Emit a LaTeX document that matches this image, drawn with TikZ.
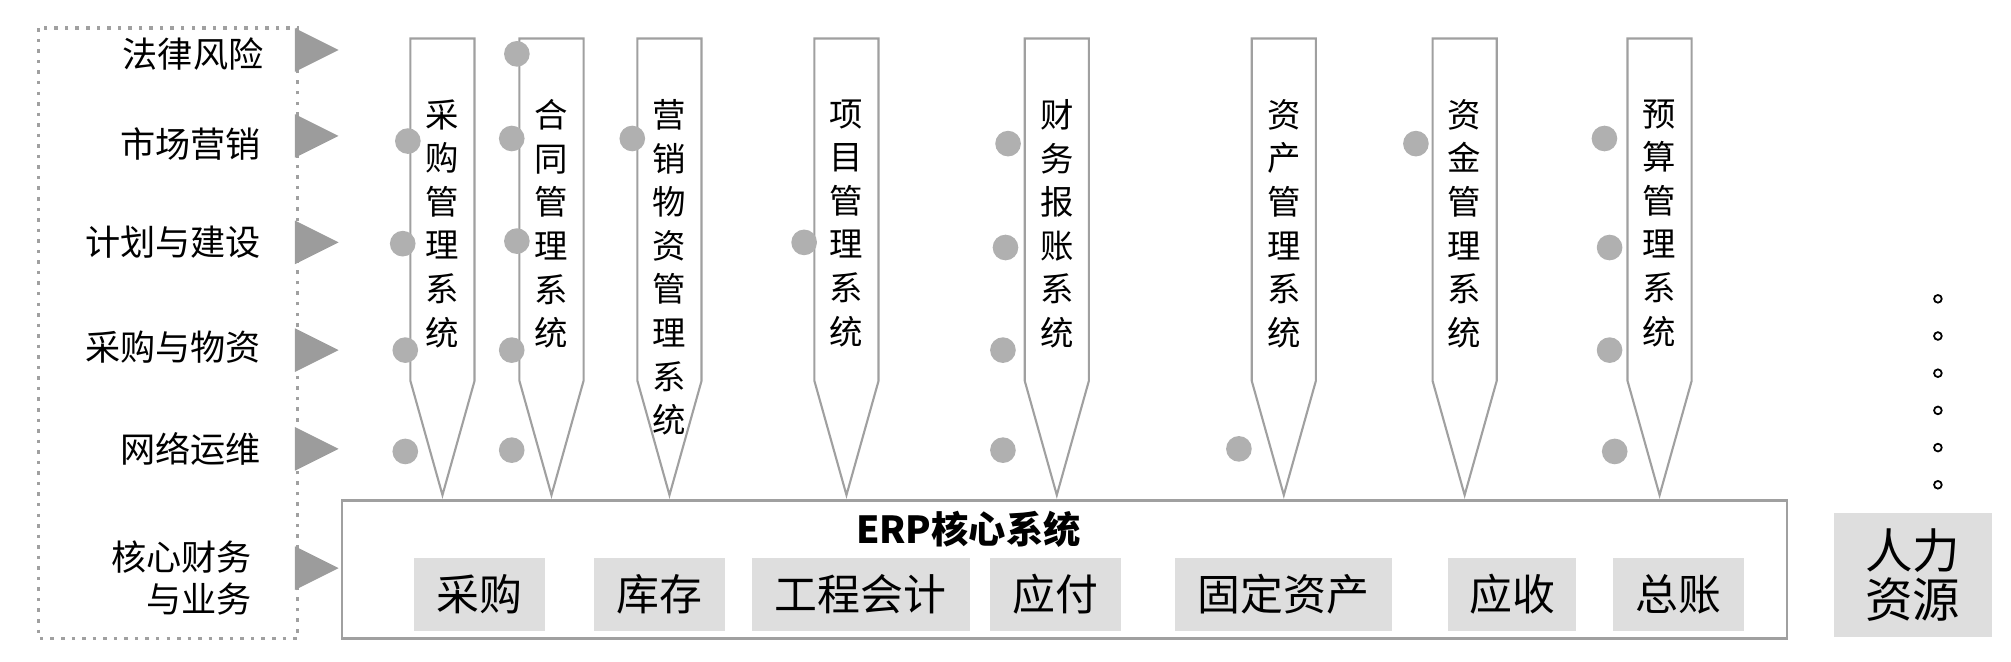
\documentclass[tikz,border=0pt]{standalone}
\usepackage{fontspec}
\setmainfont{Noto Sans CJK SC}
\usetikzlibrary{positioning}

\definecolor{linegray}{HTML}{A0A0A0}
\definecolor{trigray}{HTML}{9C9C9C}
\definecolor{dotgray}{HTML}{B0B0B0}
\definecolor{boxgray}{HTML}{DEDEDE}
\def\px{0.3649pt}

\begin{document}
\begin{tikzpicture}[x=0.012825cm,y=-0.012825cm,
	pencil/.style={draw=linegray,line width=0.6pt,fill=white},
	vtext/.style={align=center,inner sep=0pt,anchor=north,font=\fontsize{9.5}{12.4}\selectfont},
	lab/.style={align=right,inner sep=0pt,anchor=east,font=\fontsize{10}{12}\selectfont},
	module/.style={fill=boxgray,minimum height=57*\px,inner sep=0pt,font=\fontsize{12.2}{13}\selectfont},
	tri/.style={fill=trigray},
	blob/.style={circle,fill=dotgray,minimum size=20*\px,inner sep=0pt},
	etc/.style={circle,draw=black,line width=0.5pt,minimum size=6*\px,inner sep=0pt}]
	\useasboundingbox (0,0) rectangle (1568,516);
	% left frame with the business areas
	\draw[linegray,dotted,line width=1pt] (30,22) rectangle (232,498);
	\node[lab] (l1) at (206,42) {法律风险};
	\node[lab] (l2) at (204,112) {市场营销};
	\node[lab] (l3) at (204,189) {计划与建设};
	\node[lab] (l4) at (204,271) {采购与物资};
	\node[lab] (l5) at (204,350) {网络运维};
	\node[lab] (l6) at (197,451) {核心财务\\与业务};
	\foreach \y in {39,106,189,273,350,443}
		\fill[tri] (230,\y-17) -- (264,\y) -- (230,\y+17) -- cycle;
	% ERP core
	\node[draw=linegray,line width=0.8pt,minimum width=1126*\px,minimum height=108*\px,inner sep=0pt] (erp) at (830,444) {};
	\node[font=\bfseries\fontsize{10.6}{12}\selectfont,inner sep=0pt] (erpt) at (755,413) {ERP核心系统};
	\node[module,minimum width=102*\px] (m1) at (374,463.5) {采购};
	\node[module,minimum width=102*\px] (m2) at (514,463.5) {库存};
	\node[module,minimum width=170*\px] (m3) at (671,463.5) {工程会计};
	\node[module,minimum width=102*\px] (m4) at (823,463.5) {应付};
	\node[module,minimum width=169*\px] (m5) at (1000.5,463.5) {固定资产};
	\node[module,minimum width=100*\px] (m6) at (1179,463.5) {应收};
	\node[module,minimum width=102*\px] (m7) at (1309,463.5) {总账};
	% peripheral systems
	\foreach \x/\n/\t in {320/s1/{采\\购\\管\\理\\系\\统},405/s2/{合\\同\\管\\理\\系\\统},
		497/s3/{营\\销\\物\\资\\管\\理\\系\\统},635/s4/{项\\目\\管\\理\\系\\统},
		799/s5/{财\\务\\报\\账\\系\\统},976/s6/{资\\产\\管\\理\\系\\统},
		1117/s7/{资\\金\\管\\理\\系\\统},1269/s8/{预\\算\\管\\理\\系\\统}}{
		\draw[pencil] (\x,30) -- (\x+50,30) -- (\x+50,297) -- (\x+25,386) -- (\x,297) -- cycle;
		\node[vtext] (\n) at (\x+25,77) {\t};
	}
	\foreach \x/\y [count=\i] in {318/110,314/190,316/273,316/352,403/42,399/108,403/188,399/273,399/351,
		493/108,627/189,786/112,784/193,782/273,782/351,966/350,1104/112,1251/108,1255/193,1255/273,1259/352}
		\node[blob] (d\i) at (\x,\y) {};
	% human resources and more
	\node[fill=boxgray,minimum width=123*\px,minimum height=97*\px,inner sep=0pt,align=center,
		font=\fontsize{13.5}{14}\selectfont] (hr) at (1491.5,448.5) {人力\\资源};
	\foreach \y [count=\i] in {233,262,291,320,349,378}
		\node[etc] (e\i) at (1511,\y) {};
\end{tikzpicture}
\end{document}
